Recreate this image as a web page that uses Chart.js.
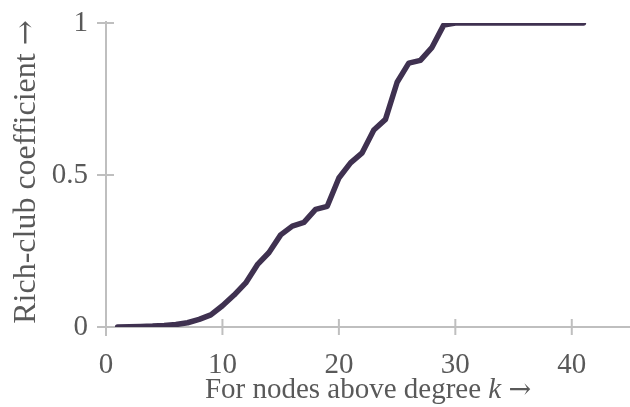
<!DOCTYPE html>
<html>
<head>
<meta charset="utf-8">
<script src="https://cdn.jsdelivr.net/npm/chart.js@4"></script>
<style>
  html, body { margin: 0; padding: 0; background: #fff; }
  #wrap { width: 630px; height: 407px; position: relative; }
</style>
</head>
<body>
<div id="wrap"><canvas id="chartRichClub"></canvas></div>
<script>
// degree k and rich-club coefficient
var degrees = [1, 2, 3, 4, 5, 6, 7, 8, 9, 10,
  11, 12, 13, 14, 15, 16, 17, 18, 19, 20,
  21, 22, 23, 24, 25, 26, 27, 28, 29, 30,
  31, 32, 33, 34, 35, 36, 37, 38, 39, 40, 41];
var richClub = [0, 0.001, 0.002, 0.003, 0.005, 0.008, 0.014, 0.025, 0.04, 0.07,
  0.105, 0.145, 0.205, 0.245, 0.303, 0.332, 0.344, 0.387, 0.397, 0.49,
  0.54, 0.573, 0.648, 0.683, 0.805, 0.868, 0.877, 0.92, 0.993, 1,
  1, 1, 1, 1, 1, 1, 1, 1, 1, 1, 1];
var xTicks = [0, 10, 20, 30, 40];
var yTicks = [0, 0.5, 1];
var xTitle = ['For nodes above degree ', 'k', ' ', '\u2192'];
var yTitle = ['Rich-club coefficient ', '\u2192'];

var FONT = "'Liberation Serif', 'Times New Roman', serif";
var ARROW_FONT = "'DejaVu Serif', serif";
var TEXT = '#595959';
var AXIS = '#bfbfbf';

function titleFonts(size) {
  return [
    size + 'px ' + FONT,
    'italic ' + size + 'px ' + FONT,
    size + 'px ' + FONT,
    (size - 2) + 'px ' + ARROW_FONT
  ];
}

// axes drawn as crossing lines with ticks through them, like the original
var axesPlugin = {
  id: 'axesPlugin',
  beforeDatasetsDraw: function (chart) {
    var c = chart.ctx, xs = chart.scales.x, ys = chart.scales.y;
    var x0 = xs.getPixelForValue(0), y0 = ys.getPixelForValue(0);
    c.save();
    c.strokeStyle = AXIS;
    c.lineWidth = 2;
    c.beginPath();
    c.moveTo(x0 - 9, y0); c.lineTo(chart.width, y0);
    c.moveTo(x0, ys.getPixelForValue(1) - 2); c.lineTo(x0, y0 + 9);
    xTicks.forEach(function (v) {
      var px = xs.getPixelForValue(v);
      c.moveTo(px, y0 - 8); c.lineTo(px, y0 + 8);
    });
    yTicks.forEach(function (v) {
      var py = ys.getPixelForValue(v);
      c.moveTo(x0 - 9, py); c.lineTo(x0 + 8, py);
    });
    c.stroke();
    c.restore();
  },
  afterDraw: function (chart) {
    var c = chart.ctx, a = chart.chartArea;
    c.save();
    c.fillStyle = TEXT;
    c.textBaseline = 'alphabetic';
    c.textAlign = 'left';
    // x title with italic k
    var fx = titleFonts(29);
    var widths = xTitle.map(function (t, i) { c.font = fx[i]; return c.measureText(t).width; });
    var total = widths.reduce(function (s, w) { return s + w; }, 0);
    var sx = (a.left + a.right) / 2 - total / 2;
    xTitle.forEach(function (t, i) {
      c.font = fx[i];
      c.fillText(t, sx, 398);
      sx += widths[i];
    });
    // y title rotated
    var fy = titleFonts(32);
    c.translate(35, 172);
    c.rotate(-Math.PI / 2);
    c.font = fy[0]; var wa = c.measureText(yTitle[0]).width;
    c.font = fy[3]; var wb = c.measureText(yTitle[1]).width;
    var st = -(wa + wb) / 2;
    c.font = fy[0]; c.fillText(yTitle[0], st, 0);
    c.font = fy[3]; c.fillText(yTitle[1], st + wa, 0);
    c.restore();
  }
};

var ctx = document.getElementById('chartRichClub');
new Chart(ctx.getContext('2d'), {
  type: 'line',
  data: {
    datasets: [{
      label: 'Rich-club coefficient',
      data: degrees.map(function (k, i) { return { x: k, y: richClub[i] }; }),
      borderColor: '#3f3150',
      borderWidth: 5.5,
      borderCapStyle: 'round',
      borderJoinStyle: 'round',
      pointRadius: 0,
      tension: 0,
      fill: false
    }]
  },
  options: {
    responsive: true,
    maintainAspectRatio: false,
    animation: false,
    layout: { padding: { top: 23, right: 0, left: 0, bottom: 0 } },
    plugins: { legend: { display: false }, tooltip: { enabled: false } },
    scales: {
      x: {
        type: 'linear',
        min: 0, max: 45,
        afterBuildTicks: function (s) { s.ticks = xTicks.map(function (v) { return { value: v }; }); },
        afterFit: function (s) { s.height = 80; s.paddingLeft = 0; s.paddingRight = 0; },
        grid: { display: false, drawTicks: false },
        border: { display: false },
        ticks: { color: TEXT, font: { family: FONT, size: 29 }, padding: 21, maxRotation: 0 }
      },
      y: {
        type: 'linear',
        min: 0, max: 1,
        afterBuildTicks: function (s) { s.ticks = yTicks.map(function (v) { return { value: v }; }); },
        afterFit: function (s) { s.width = 106; s.paddingTop = 0; s.paddingBottom = 0; },
        grid: { display: false, drawTicks: false },
        border: { display: false },
        ticks: {
          color: TEXT, font: { family: FONT, size: 29 }, padding: 18,
          callback: function (v) { return String(v); }
        }
      }
    }
  },
  plugins: [axesPlugin]
});
</script>
</body>
</html>
